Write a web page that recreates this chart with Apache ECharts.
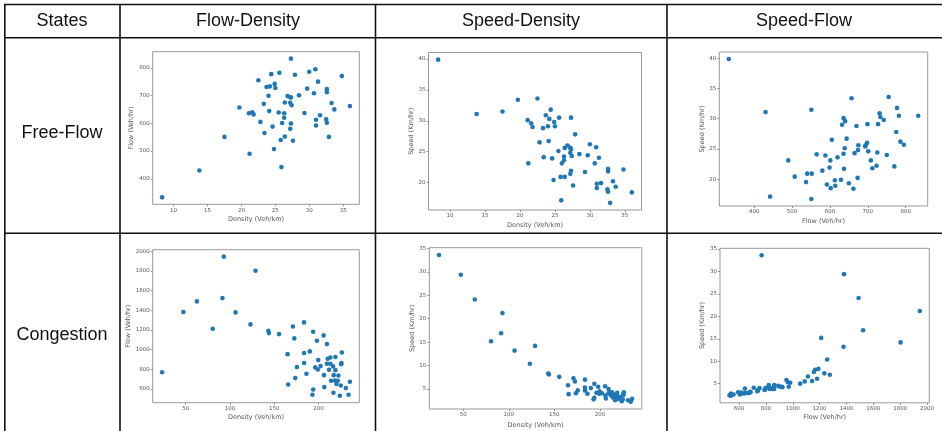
<!DOCTYPE html>
<html>
<head>
<meta charset="utf-8">
<script src="https://cdn.jsdelivr.net/npm/echarts@6/dist/echarts.min.js"></script>
<style>
  html, body { margin: 0; padding: 0; background: #fff; }
  #chart { width: 942px; height: 431px; }
</style>
</head>
<body>
<div id="chart"></div>
<script>
// free-flow state samples
var freeDensity = [8.3,13.8,17.5,19.7,21.2,21.1,21.6,21.8,22.5,22.8,23.3,23.4,23.7,24.0,24.2,24.1,24.4,24.6,24.8,24.9,25.0,25.6,25.5,25.8,25.9,26.0,26.3,26.3,26.4,26.4,26.8,27.2,27.2,27.2,27.3,27.3,27.4,27.3,27.6,27.9,28.5,29.3,29.7,30.0,30.7,30.9,31.0,31.0,31.3,31.6,32.6,32.6,32.5,32.6,32.9,33.3,33.7,34.8,36.0];
var freeFlow = [333,430,551,657,490,636,640,632,755,605,670,565,731,699,733,644,777,588,507,742,727,782,639,540,442,601,620,636,675,552,698,694,580,674,833,599,665,693,537,775,701,637,725,786,708,795,613,592,750,629,723,712,614,602,551,673,650,770,662];
var freeSpeed = [39.9,31.1,31.5,33.4,23.1,30.1,29.6,29.0,33.6,26.5,28.8,24.1,30.9,29.1,30.3,26.7,31.8,23.9,20.4,29.8,29.1,30.5,25.1,20.9,17.1,23.1,23.6,24.2,25.6,20.9,26.0,25.6,21.4,24.8,30.5,21.9,24.3,25.4,19.5,27.8,24.6,21.7,24.4,26.2,23.1,25.7,19.8,19.1,24.0,19.9,22.2,21.8,18.9,18.5,16.7,20.2,19.3,22.1,18.4];

// congestion state samples
var congDensity = [23.3,47.3,62.6,80.5,91.5,93.0,106.3,128.8,123.1,143.3,144.0,155.4,165.0,165.7,171.0,172.6,173.7,175.6,183.6,183.6,183.6,186.3,190.1,193.9,193.9,193.1,196.2,198.1,199.6,199.2,202.3,205.7,206.1,206.5,209.5,209.5,210.3,211.8,213.3,213.3,214.1,216.4,216.8,217.1,218.6,219.0,219.0,220.2,222.4,221.7,224.0,225.1,225.5,226.3,225.9,230.8,233.9,235.4];
var congFlow = [768,1382,1490,1212,1524,1946,1378,1803,1256,1191,1167,1157,953,644,1235,1113,709,821,1276,964,862,753,981,1181,593,539,818,1089,892,797,831,1144,739,617,1055,855,906,794,919,855,682,828,559,739,685,923,790,648,736,682,529,634,851,970,862,607,539,671];
var congSpeed = [33.6,29.4,24.1,15.2,16.9,21.2,13.2,14.2,10.4,8.3,8.1,7.6,5.8,3.9,7.3,6.6,4.1,4.7,7.0,5.3,4.7,4.0,5.2,6.1,3.1,2.8,4.2,5.5,4.5,4.0,4.1,5.6,3.6,3.0,5.0,4.1,4.3,3.7,4.3,4.0,3.2,3.8,2.6,3.4,3.1,4.2,3.6,2.9,3.3,3.1,2.4,2.8,3.8,4.3,3.8,2.6,2.3,2.9];

// tick labels
var freeDensityTicks = [10,15,20,25,30,35];
var freeFlowTicks = [400,500,600,700,800];
var freeSpeedTicks = [20,25,30,35,40];
var congDensityTicks = [50,100,150,200];
var congFlowTicks = [600,800,1000,1200,1400,1600,1800,2000];
var congSpeedTicks = [5,10,15,20,25,30,35];

var states = ['Free-Flow', 'Congestion'];
var columns = ['States', 'Flow-Density', 'Speed-Density', 'Speed-Flow'];

var DENS = 'Density (Veh/km)', FLOW_X = 'Flow (Veh/hr)', FLOW_Y = 'Flow (Veh/hr)', SPEED = 'Speed (Km/hr)';

function pairs(xs, ys) {
  return xs.map(function (x, i) { return [x, ys[i]]; });
}

// matplotlib style 5% padding
function padMin(v) { return v.min - (v.max - v.min) * 0.05; }
function padMax(v) { return v.max + (v.max - v.min) * 0.05; }

var panels = [
  { box: [152.7, 51.7, 206.6, 152.6], x: freeDensity, y: freeFlow, xt: freeDensityTicks, yt: freeFlowTicks, xn: DENS, yn: FLOW_Y, xg: 12, yg: 16.5 },
  { box: [428.5, 52.5, 213, 157.5], x: freeDensity, y: freeSpeed, xt: freeDensityTicks, yt: freeSpeedTicks, xn: DENS, yn: SPEED, xg: 11.5, yg: 14 },
  { box: [719.3, 52, 208.4, 154], x: freeFlow, y: freeSpeed, xt: freeFlowTicks, yt: freeSpeedTicks, xn: FLOW_X, yn: SPEED, xg: 12, yg: 13.5 },
  { box: [152.7, 249.7, 206.6, 153], x: congDensity, y: congFlow, xt: congDensityTicks, yt: congFlowTicks, xn: DENS, yn: FLOW_Y, xg: 11.5, yg: 20 },
  { box: [429.3, 247.7, 212.5, 161.3], x: congDensity, y: congSpeed, xt: congDensityTicks, yt: congSpeedTicks, xn: DENS, yn: SPEED, xg: 12.5, yg: 13.5 },
  { box: [720, 248.3, 209.3, 154.5], x: congFlow, y: congSpeed, xt: congFlowTicks, yt: congSpeedTicks, xn: FLOW_X, yn: SPEED, xg: 11, yg: 14.5 }
];

function axis(idx, name, gap, ticks) {
  return {
    type: 'value',
    gridIndex: idx,
    min: padMin,
    max: padMax,
    name: name,
    nameLocation: 'middle',
    nameGap: gap,
    nameTextStyle: { fontSize: 6.5, color: '#555', fontFamily: 'DejaVu Sans' },
    axisLine: { show: false },
    axisTick: { show: true, length: 2, lineStyle: { color: '#777', width: 0.8 }, customValues: ticks },
    axisLabel: {
      fontSize: 5.5, color: '#555', margin: 3, fontFamily: 'DejaVu Sans', customValues: ticks,
      formatter: function (v) { return String(v); }
    },
    splitLine: { show: false }
  };
}

var grids = [], xAxes = [], yAxes = [], series = [];
panels.forEach(function (p, i) {
  grids.push({
    left: p.box[0], top: p.box[1], width: p.box[2], height: p.box[3],
    show: true, borderColor: '#999', borderWidth: 1, backgroundColor: 'transparent'
  });
  xAxes.push(axis(i, p.xn, p.xg, p.xt));
  yAxes.push(axis(i, p.yn, p.yg, p.yt));
  series.push({
    type: 'scatter',
    xAxisIndex: i,
    yAxisIndex: i,
    symbolSize: 4.6,
    itemStyle: { color: '#1f77b4', opacity: 1 },
    data: pairs(p.x, p.y)
  });
});

// table rules
var rule = { stroke: '#111', lineWidth: 1.6 };
var rules = [
  [4, 4.5, 942, 4.5], [4, 37.7, 942, 37.7], [4, 233.3, 942, 233.3],
  [4.8, 4, 4.8, 431], [120, 4, 120, 431], [375.5, 4, 375.5, 431], [667, 4, 667, 431]
];
var graphics = rules.map(function (r) {
  return { type: 'line', silent: true, shape: { x1: r[0], y1: r[1], x2: r[2], y2: r[3] }, style: rule, z: 10 };
});

var headX = [62, 248, 521, 804];
columns.forEach(function (c, i) {
  graphics.push({ type: 'text', x: headX[i], y: 21.5, style: {
    text: c, align: 'center', verticalAlign: 'middle', fontSize: 18, fontFamily: 'Liberation Sans', fill: '#111'
  } });
});
var rowY = [133, 335];
states.forEach(function (s, i) {
  graphics.push({ type: 'text', x: 62, y: rowY[i], style: {
    text: s, align: 'center', verticalAlign: 'middle', fontSize: 18, fontFamily: 'Liberation Sans', fill: '#111'
  } });
});

var chart = echarts.init(document.getElementById('chart'));
chart.setOption({
  animation: false,
  backgroundColor: '#fff',
  grid: grids,
  xAxis: xAxes,
  yAxis: yAxes,
  series: series,
  graphic: graphics
});
</script>
</body>
</html>
